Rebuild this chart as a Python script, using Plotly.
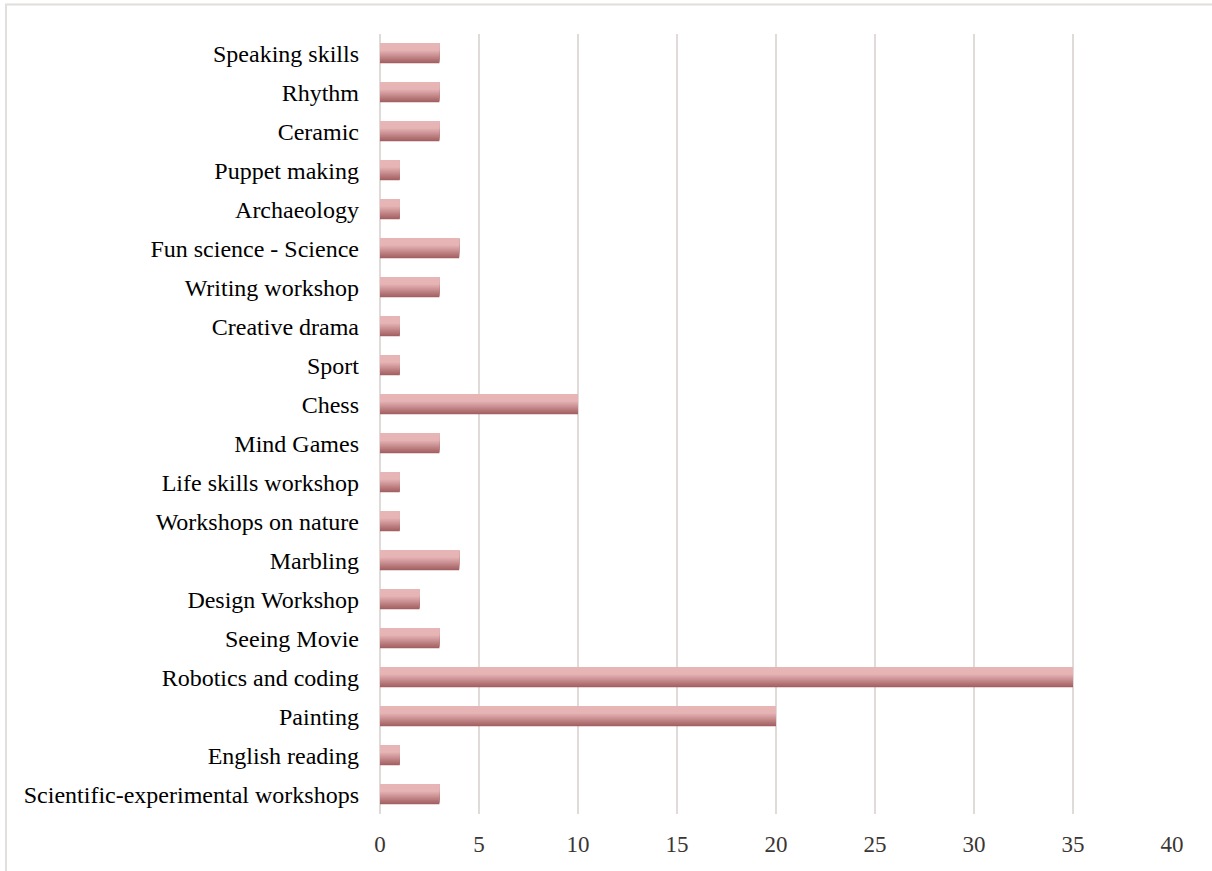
import plotly.graph_objects as go

# Workshop categories, listed bottom to top as they appear on the axis
categories = [
    "Scientific-experimental workshops",
    "English reading",
    "Painting",
    "Robotics and coding",
    "Seeing Movie",
    "Design Workshop",
    "Marbling",
    "Workshops on nature",
    "Life skills workshop",
    "Mind Games",
    "Chess",
    "Sport",
    "Creative drama",
    "Writing workshop",
    "Fun science - Science",
    "Archaeology",
    "Puppet making",
    "Ceramic",
    "Rhythm",
    "Speaking skills",
]
counts = [3, 1, 20, 35, 3, 2, 4, 1, 1, 3, 10, 1, 1, 3, 4, 1, 1, 3, 3, 3]
x_ticks = [0, 5, 10, 15, 20, 25, 30, 35, 40]

BAR_W = 0.5
LIGHT = (231, 181, 182)
DARK = (164, 96, 98)


def shade(f):
    # f: fraction measured from the top edge of a bar (0 top, 1 bottom)
    if f <= 0.35:
        t = 0.0
    else:
        t = (f - 0.35) / 0.65
    c = [round(LIGHT[i] + (DARK[i] - LIGHT[i]) * t) for i in range(3)]
    return f"rgb({c[0]},{c[1]},{c[2]})"


fig = go.Figure()

# Vertical gradient: stacked layers anchored at the top edge of each bar,
# each narrower one lighter than the one beneath it.
n_layers = 16
for k in range(n_layers, 0, -1):
    frac = k / n_layers
    w = BAR_W * frac
    fig.add_trace(go.Bar(
        x=counts,
        y=categories,
        orientation="h",
        width=w,
        offset=BAR_W / 2 - w,
        marker=dict(color=shade(frac), line=dict(width=0)),
        showlegend=False,
        hoverinfo="skip" if k != n_layers else None,
    ))

GRID = "#e0dbd8"

fig.update_layout(
    width=1212,
    height=871,
    barmode="overlay",
    plot_bgcolor="white",
    paper_bgcolor="white",
    margin=dict(l=380, r=40, t=34, b=57),
    font=dict(family="Liberation Serif, Times New Roman, serif", color="#000000"),
    xaxis=dict(
        range=[0, 40],
        tickvals=x_ticks,
        ticktext=[str(v) for v in x_ticks],
        showgrid=True,
        gridcolor=GRID,
        gridwidth=2,
        zeroline=True,
        zerolinecolor=GRID,
        zerolinewidth=2,
        showline=False,
        ticks="",
        tickfont=dict(size=23, color="#3b3634"),
        ticklabelstandoff=14,
        fixedrange=True,
    ),
    yaxis=dict(
        categoryorder="array",
        categoryarray=categories,
        showgrid=False,
        zeroline=False,
        showline=False,
        ticks="",
        tickfont=dict(size=24, color="#000000"),
        ticklabelstandoff=20,
        fixedrange=True,
    ),
    shapes=[
        # outer chart frame
        dict(
            type="rect",
            xref="paper",
            yref="paper",
            x0=(6 - 380) / 792,
            x1=1.2,
            y0=-0.2,
            y1=(814.5 - 5) / 780,
            line=dict(color="#e2dedb", width=2),
            fillcolor="rgba(0,0,0,0)",
            layer="below",
        )
    ],
)

fig.write_html("out.html")
